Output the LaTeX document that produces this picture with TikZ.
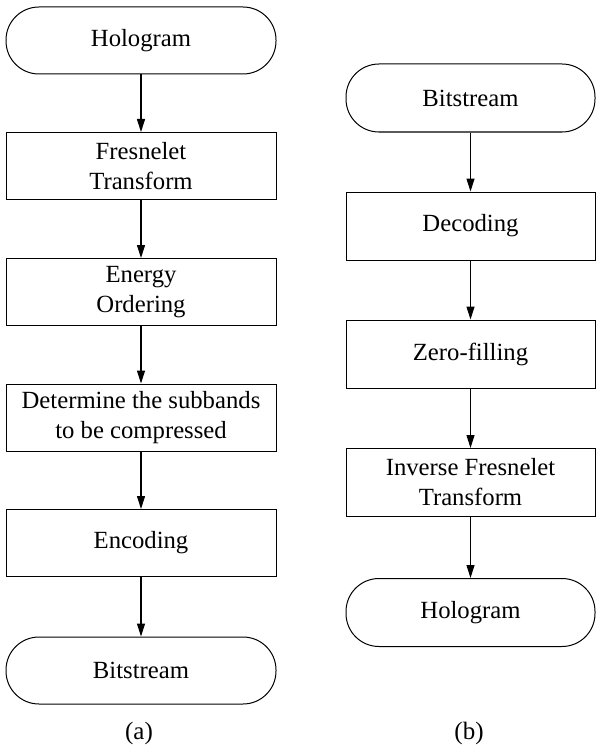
\documentclass[tikz,border=0pt]{standalone}
\usepackage{fontspec}
\setmainfont{Liberation Serif}
\usetikzlibrary{arrows.meta}
\begin{document}
\begin{tikzpicture}[x=1pt,y=-1pt,
  every node/.style={font=\fontsize{24.7pt}{30pt}\selectfont, align=center, inner sep=0pt},
  boxa/.style={draw, line width=1pt, minimum width=270pt, minimum height=67pt},
  boxb/.style={draw, line width=1pt, minimum width=249pt, minimum height=68pt},
  terma/.style={boxa, rounded corners=33pt},
  termb/.style={boxb, rounded corners=33pt},
  flow/.style={line width=1.1pt, -{Triangle[length=13pt,width=8pt]}},
  caption/.style={font=\fontsize{25pt}{28pt}\selectfont}]
\useasboundingbox (0,0) rectangle (597,749);
% column (a)
\node[terma] (a1) at (141,40.5) {Hologram};
\node[boxa] (a2) at (141,166) {Fresnelet\\Transform};
\node[boxa] (a3) at (141,292) {Energy\\Ordering};
\node[boxa] (a4) at (141,417.5) {Determine the subbands\\to be compressed};
\node[boxa] (a5) at (141,543) {Encoding};
\node[terma] (a6) at (141,670.5) {Bitstream};
\node[caption] (ca) at (139,733) {(a)};
\draw[flow] (a1) -- (a2);
\draw[flow] (a2) -- (a3);
\draw[flow] (a3) -- (a4);
\draw[flow] (a4) -- (a5);
\draw[flow] (a5) -- (a6);
% column (b)
\node[termb] (b1) at (470.5,98) {Bitstream};
\node[boxb] (b2) at (470.5,226) {Decoding};
\node[boxb] (b3) at (470.5,354) {Zero-filling};
\node[boxb] (b4) at (470.5,482.5) {Inverse Fresnelet\\Transform};
\node[termb] (b5) at (470.5,612.5) {Hologram};
\node[caption] (cb) at (469,733) {(b)};
\draw[flow] (b1) -- (b2);
\draw[flow] (b2) -- (b3);
\draw[flow] (b3) -- (b4);
\draw[flow] (b4) -- (b5);
\end{tikzpicture}
\end{document}
